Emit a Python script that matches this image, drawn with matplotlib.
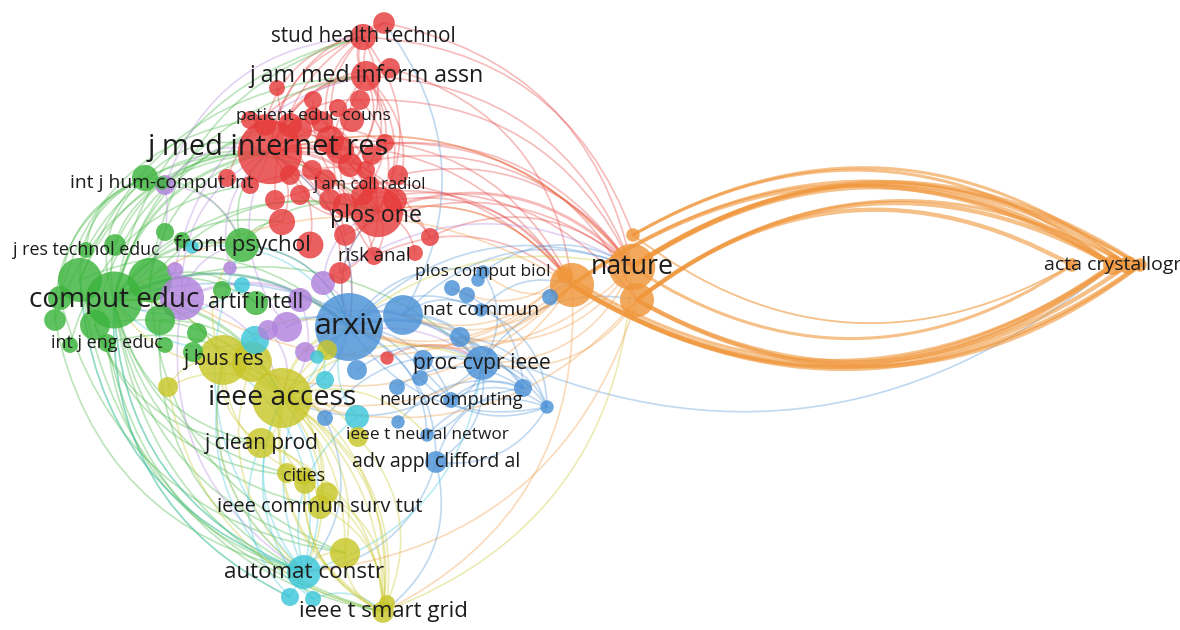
import matplotlib
matplotlib.use("Agg")
import matplotlib.pyplot as plt
from matplotlib.path import Path
from matplotlib.patches import PathPatch, Circle

# --- map data: node id, cluster, map x, map y, weight -----------------------
node_ids = [
    # red
    'stud', 'r01', 'jamia', 'r02', 'r03', 'r04', 'r05', 'pec', 'r06', 'r07', 'jmir',
    'r08', 'r09', 'r10', 'r11', 'jacr', 'r12', 'r13', 'r14', 'r15', 'plos', 'r16',
    'r17', 'r18', 'r19', 'r20', 'riskanal', 'r21', 'r22', 'r23',
    'r24', 'r25', 'r26', 'r27', 'r28', 'r29', 'r30', 'r31', 'r32', 'r33', 'r34',
    'r35', 'r36', 'r37',
    # green
    'g01', 'ijhci', 'g02', 'g03', 'jrte', 'g04', 'comput', 'g05', 'g06', 'g07', 'g08',
    'g09', 'g10', 'front', 'g11', 'artif', 'ijee', 'g12', 'g13', 'g14', 'g15',
    # purple
    'p01', 'p02', 'p03', 'p04', 'p05', 'p06', 'p07', 'p08', 'p09',
    # blue
    'arxiv', 'b01', 'natcom', 'pcb', 'cvpr', 'neuro', 'tnn', 'clifford', 'b02', 'b03',
    'b04', 'b05', 'b06', 'b07', 'b08', 'b09', 'b10', 'b11', 'b12', 'b13', 'b14',
    # cyan
    'c01', 'c02', 'c03', 'c04', 'c05', 'automat', 'c06', 'c07', 'c08',
    # yellow
    'access', 'jbr', 'y01', 'jcp', 'cities', 'y02', 'y03', 'ieeecst', 'y04', 'y05',
    'smart', 'y06', 'y07', 'y08', 'y09',
    # orange
    'nature', 'o01', 'o02', 'o03', 'o04', 'acta', 'o05', 'o06', 'o07',
]

node_labels = {
    'stud': 'stud health technol', 'jamia': 'j am med inform assn',
    'pec': 'patient educ couns', 'jmir': 'j med internet res',
    'jacr': 'j am coll radiol', 'plos': 'plos one', 'riskanal': 'risk anal',
    'ijhci': 'int j hum-comput int', 'jrte': 'j res technol educ',
    'comput': 'comput educ', 'front': 'front psychol', 'artif': 'artif intell',
    'ijee': 'int j eng educ', 'arxiv': 'arxiv', 'natcom': 'nat commun',
    'pcb': 'plos comput biol', 'cvpr': 'proc cvpr ieee', 'neuro': 'neurocomputing',
    'tnn': 'ieee t neural networ', 'clifford': 'adv appl clifford al',
    'access': 'ieee access', 'jbr': 'j bus res', 'jcp': 'j clean prod',
    'cities': 'cities', 'ieeecst': 'ieee commun surv tut', 'automat': 'automat constr',
    'smart': 'ieee t smart grid', 'nature': 'nature', 'acta': 'acta crystallogr',
}

node_cluster = (['red'] * 44 + ['green'] * 21 + ['purple'] * 9 + ['blue'] * 21
                + ['cyan'] * 9 + ['yellow'] * 15 + ['orange'] * 9)

node_x = [
    363, 384, 366, 390, 360, 313, 277, 313, 250, 290, 270,
    330, 385, 350, 312, 370, 300, 250, 227, 330, 378, 282,
    310, 345, 430, 415, 374, 340, 387, 395,
    265, 300, 322, 338, 352, 340, 372, 366, 325, 290, 275,
    345, 362, 398,
    145, 162, 165, 182, 86, 115, 114, 80, 150, 55, 60,
    160, 95, 242, 222, 256, 107, 197, 193, 165, 70,
    182, 287, 323, 230, 165, 300, 268, 305, 175,
    349, 403, 481, 483, 482, 451, 427, 436, 452, 467,
    478, 460, 423, 397, 420, 523, 547, 398, 325, 357, 550,
    357, 325, 317, 242, 192, 304, 290, 313, 255,
    282, 223, 252, 261, 304, 287, 305, 320, 327, 345,
    383, 387, 168, 358, 327,
    632, 572, 637, 633, 565, 1113, 1072, 1128, 1140,
]
node_y = [
    37, 23, 76, 68, 100, 100, 88, 116, 120, 125, 152,
    140, 143, 165, 170, 185, 195, 185, 178, 200, 212, 222,
    245, 235, 237, 253, 256, 273, 358, 200,
    125, 130, 122, 108, 120, 150, 155, 170, 180, 175, 200,
    205, 195, 175,
    178, 183, 232, 240, 250, 245, 300, 280, 280, 320, 298,
    320, 325, 245, 290, 303, 343, 333, 352, 345, 345,
    298, 327, 283, 268, 185, 300, 330, 352, 270,
    327, 315, 310, 272, 363, 400, 435, 462, 288, 295,
    280, 337, 360, 387, 378, 388, 407, 422, 418, 370, 297,
    417, 380, 357, 285, 247, 572, 597, 599, 340,
    398, 360, 362, 443, 476, 473, 483, 507, 493, 553,
    612, 603, 387, 437, 350,
    267, 285, 300, 235, 275, 265, 265, 265, 265,
]
node_weight = [
    19, 13, 25, 11, 11, 9, 7, 9, 9, 16, 115,
    22, 9, 16, 11, 9, 11, 9, 9, 13, 70, 19,
    20, 13, 9, 7, 9, 13, 5, 16,
    13, 16, 13, 9, 16, 22, 11, 9, 13, 11, 11,
    16, 13, 11,
    19, 5, 9, 7, 7, 13, 90, 54, 54, 13, 16,
    25, 25, 32, 9, 16, 9, 11, 11, 7, 7,
    54, 25, 16, 5, 11, 16, 11, 11, 7,
    128, 44, 5, 5, 32, 7, 5, 13, 7, 7,
    5, 11, 11, 7, 7, 9, 5, 5, 7, 11, 7,
    16, 9, 5, 7, 5, 32, 9, 7, 22,
    100, 69, 44, 25, 9, 11, 13, 16, 13, 25,
    13, 7, 11, 11, 11,
    60, 54, 32, 5, 7, 11, 5, 9, 5,
]

# links: (source, target, strength, bend side)
links = [
    # red
    ('jmir', 'stud', 1, 1), ('jmir', 'r01', 1, 1), ('jmir', 'jamia', 2, 1), ('jmir', 'r02', 1, 1),
    ('jmir', 'r03', 1, 1), ('jmir', 'pec', 1, 1), ('jmir', 'r08', 1, 1), ('jmir', 'r09', 1, 1),
    ('jmir', 'r10', 1, 1), ('jmir', 'jacr', 1, 1), ('jmir', 'plos', 2, 1), ('jmir', 'r16', 1, 1),
    ('jmir', 'r17', 1, 1), ('jmir', 'r18', 1, 1), ('jmir', 'riskanal', 1, 1), ('jmir', 'r19', 1, 1),
    ('jmir', 'r15', 1, 1), ('jmir', 'r23', 1, 1), ('jmir', 'r21', 1, 1),
    ('jamia', 'stud', 2, 1), ('jamia', 'r01', 1, 1), ('jamia', 'plos', 1, 1), ('jamia', 'jacr', 1, 1),
    ('jamia', 'r10', 1, 1), ('jamia', 'r23', 1, 1), ('jamia', 'riskanal', 1, -1),
    ('stud', 'plos', 1, 1), ('stud', 'r10', 1, 1), ('stud', 'r08', 1, -1),
    ('plos', 'r19', 1, 1), ('plos', 'r20', 1, 1), ('plos', 'riskanal', 1, 1), ('plos', 'r21', 1, 1),
    ('plos', 'r12', 1, 1), ('plos', 'r04', 1, 1), ('plos', 'r05', 1, 1),
    ('r08', 'plos', 1, 1), ('r07', 'plos', 1, 1), ('r06', 'plos', 1, 1), ('pec', 'plos', 1, 1),
    ('r03', 'plos', 1, 1), ('r11', 'r23', 1, 1), ('r13', 'plos', 1, 1), ('r14', 'jamia', 1, 1),
    ('r24', 'stud', 1, 1), ('r35', 'jamia', 1, 1), ('r26', 'r36', 1, 1), ('r33', 'plos', 1, -1),
    ('r29', 'stud', 1, 1), ('r34', 'r01', 1, 1), ('r31', 'jamia', 1, -1),
    ('jmir', 'nature', 1, 1), ('plos', 'nature', 2, 1), ('jamia', 'nature', 1, 1),
    ('r01', 'nature', 1, 1), ('r08', 'o01', 1, 1), ('r10', 'nature', 1, 1), ('r23', 'o01', 1, 1),
    ('r19', 'nature', 1, 1), ('plos', 'o01', 1, 1), ('r09', 'o02', 1, 1), ('riskanal', 'o01', 1, 1),
    ('stud', 'o03', 1, 1), ('r02', 'o01', 1, 1), ('r29', 'nature', 1, 1), ('r36', 'o01', 1, 1),
    ('r37', 'nature', 1, 1), ('r34', 'o04', 1, 1), ('r35', 'o02', 1, 1), ('r03', 'nature', 1, 1),
    ('jmir', 'o01', 1, 1), ('r18', 'nature', 1, 1),
    ('jmir', 'arxiv', 1, 1), ('plos', 'arxiv', 1, -1), ('r22', 'cvpr', 1, 1),
    # green
    ('comput', 'jmir', 2, 1), ('comput', 'jamia', 1, 1), ('comput', 'plos', 1, 1),
    ('comput', 'front', 2, 1), ('comput', 'pec', 1, 1), ('comput', 'r16', 1, 1),
    ('g05', 'jmir', 1, 1), ('g06', 'jmir', 1, 1), ('g06', 'plos', 1, 1), ('g01', 'jmir', 1, 1),
    ('g01', 'plos', 1, 1), ('g01', 'front', 1, 1), ('comput', 'g01', 1, 1), ('comput', 'ijhci', 1, 1),
    ('g05', 'g01', 1, 1), ('jrte', 'g01', 1, 1), ('g08', 'g01', 1, 1), ('front', 'jmir', 1, 1),
    ('front', 'plos', 1, 1), ('front', 'r16', 1, 1), ('g04', 'jmir', 1, 1), ('jrte', 'jmir', 1, 1),
    ('comput', 'stud', 1, 1), ('g05', 'jamia', 1, 1), ('g06', 'stud', 1, 1), ('g07', 'jmir', 1, 1),
    ('g08', 'r06', 1, 1), ('g10', 'r07', 1, 1), ('g07', 'g01', 1, 1), ('g15', 'r13', 1, 1),
    ('comput', 'arxiv', 2, 1), ('comput', 'access', 2, 1), ('comput', 'jbr', 1, 1),
    ('front', 'arxiv', 1, 1), ('artif', 'arxiv', 1, 1), ('comput', 'artif', 1, 1),
    ('g06', 'artif', 1, 1), ('g09', 'access', 1, 1), ('g10', 'access', 1, 1), ('ijee', 'access', 1, 1),
    ('comput', 'p01', 1, 1), ('g05', 'arxiv', 1, 1), ('comput', 'cvpr', 1, 1),
    ('comput', 'automat', 1, -1), ('comput', 'smart', 1, -1), ('comput', 'ieeecst', 1, -1),
    ('comput', 'jcp', 1, -1), ('comput', 'y05', 1, -1), ('g05', 'automat', 1, -1),
    ('g05', 'smart', 1, -1), ('g10', 'cities', 1, -1), ('ijee', 'automat', 1, -1),
    ('ijee', 'smart', 1, -1), ('g07', 'automat', 1, -1), ('comput', 'c06', 1, -1),
    ('g08', 'y05', 1, -1), ('comput', 'cities', 1, -1), ('g09', 'automat', 1, -1),
    ('g06', 'y05', 1, -1), ('g10', 'jcp', 1, -1),
    # purple
    ('p01', 'comput', 1, 1), ('p01', 'arxiv', 2, 1), ('p01', 'jmir', 1, 1), ('p01', 'front', 1, 1),
    ('p02', 'arxiv', 1, 1), ('p02', 'jmir', 1, 1), ('p03', 'arxiv', 1, 1), ('p03', 'plos', 1, 1),
    ('p05', 'comput', 1, 1), ('p05', 'jmir', 1, 1), ('p06', 'access', 1, 1), ('p07', 'access', 1, 1),
    ('p09', 'comput', 1, 1), ('p01', 'access', 1, 1), ('p02', 'cvpr', 1, 1), ('p05', 'front', 1, 1),
    ('p03', 'nature', 1, 1), ('p04', 'jmir', 1, 1), ('p08', 'cvpr', 1, 1), ('p01', 'automat', 1, -1),
    ('p05', 'stud', 1, 1), ('p09', 'jamia', 1, 1),
    # blue
    ('arxiv', 'cvpr', 2, 1), ('arxiv', 'natcom', 1, 1), ('arxiv', 'neuro', 1, 1), ('arxiv', 'tnn', 1, 1),
    ('arxiv', 'clifford', 1, 1), ('arxiv', 'b01', 2, 1), ('arxiv', 'pcb', 1, 1), ('b01', 'cvpr', 2, 1),
    ('b01', 'natcom', 1, 1), ('cvpr', 'neuro', 1, 1), ('cvpr', 'b09', 1, 1), ('cvpr', 'b10', 1, 1),
    ('cvpr', 'tnn', 1, 1), ('cvpr', 'clifford', 1, 1), ('neuro', 'b09', 1, 1), ('neuro', 'b10', 1, 1),
    ('clifford', 'b09', 1, 1), ('clifford', 'b10', 1, -1), ('tnn', 'b10', 1, 1), ('b06', 'b10', 1, 1),
    ('b05', 'b10', 1, 1), ('b05', 'cvpr', 1, 1), ('b07', 'b09', 1, 1), ('b08', 'b10', 1, -1),
    ('b13', 'cvpr', 1, 1), ('arxiv', 'b09', 1, 1), ('arxiv', 'b10', 1, -1), ('natcom', 'b10', 1, 1),
    ('pcb', 'cvpr', 1, 1), ('b02', 'b09', 1, 1), ('b11', 'b09', 1, 1), ('b12', 'cvpr', 1, 1),
    ('arxiv', 'nature', 1, 1), ('b01', 'nature', 1, 1), ('natcom', 'o01', 1, 1),
    ('pcb', 'nature', 1, 1), ('b14', 'o01', 1, 1), ('b05', 'acta', 1, -1), ('cvpr', 'o02', 1, 1),
    ('arxiv', 'jmir', 1, -1), ('arxiv', 'plos', 1, 1), ('arxiv', 'front', 1, -1),
    ('arxiv', 'comput', 1, -1), ('arxiv', 'access', 1, 1), ('clifford', 'smart', 1, 1),
    ('clifford', 'automat', 1, 1), ('b12', 'automat', 1, 1), ('b01', 'r01', 1, -1),
    ('neuro', 'comput', 1, -1), ('cvpr', 'access', 1, 1),
    # cyan
    ('automat', 'access', 1, 1), ('automat', 'arxiv', 1, 1), ('automat', 'jbr', 1, 1),
    ('automat', 'jbr', 1, -1), ('automat', 'c01', 1, 1), ('automat', 'comput', 1, 1),
    ('c06', 'comput', 1, 1), ('c07', 'jbr', 1, 1), ('automat', 'g05', 1, 1), ('automat', 'front', 1, 1),
    ('c01', 'arxiv', 1, 1), ('c02', 'arxiv', 1, 1), ('c08', 'comput', 1, 1), ('c08', 'arxiv', 1, 1),
    ('automat', 'cvpr', 1, -1), ('c06', 'access', 1, -1), ('c07', 'smart', 1, 1),
    ('c06', 'jcp', 1, 1), ('c07', 'access', 1, 1), ('c04', 'comput', 1, 1), ('c05', 'arxiv', 1, 1),
    # yellow
    ('access', 'automat', 1, 1), ('access', 'smart', 1, 1), ('access', 'smart', 2, -1),
    ('jbr', 'smart', 1, 1), ('jbr', 'automat', 1, -1), ('access', 'ieeecst', 1, 1),
    ('access', 'cities', 1, -1), ('access', 'y05', 1, 1), ('jcp', 'smart', 1, 1),
    ('cities', 'smart', 1, -1), ('ieeecst', 'smart', 1, 1), ('y05', 'smart', 1, -1),
    ('jbr', 'y05', 1, 1), ('y01', 'smart', 1, 1), ('y01', 'automat', 1, -1), ('jbr', 'jcp', 1, -1),
    ('access', 'jcp', 1, 1), ('y07', 'access', 1, 1), ('y07', 'jbr', 1, 1), ('jbr', 'comput', 1, -1),
    ('access', 'arxiv', 2, 1), ('access', 'cvpr', 1, 1), ('access', 'tnn', 1, 1),
    ('access', 'b12', 1, 1), ('jbr', 'arxiv', 1, 1), ('access', 'nature', 1, 1), ('jbr', 'front', 1, 1),
    ('y01', 'comput', 1, 1), ('y05', 'automat', 1, -1), ('access', 'y08', 1, 1),
    ('smart', 'nature', 1, -1), ('y04', 'smart', 1, 1), ('y03', 'smart', 1, -1), ('y02', 'smart', 1, 1),
    ('y06', 'access', 1, -1), ('y07', 'smart', 1, -1), ('y08', 'smart', 1, 1), ('y09', 'access', 1, 1),
    ('jcp', 'ieeecst', 1, 1), ('jbr', 'cities', 1, -1), ('y01', 'ieeecst', 1, 1),
    # orange
    ('nature', 'acta', 4, 1), ('nature', 'o06', 3, 1), ('nature', 'o07', 3, 1), ('o03', 'acta', 2, 1),
    ('o01', 'acta', 3, 1), ('o01', 'o07', 2, 1), ('o02', 'o05', 3, 1), ('o02', 'acta', 3, 1),
    ('o03', 'o06', 2, 1), ('o02', 'o06', 2, 1),
    ('o01', 'acta', 4, -1), ('o01', 'o06', 3, -1), ('o01', 'o07', 3, -1), ('o02', 'acta', 3, -1),
    ('o02', 'o07', 3, -1), ('nature', 'o05', 2, -1), ('o03', 'o05', 1, -1), ('o04', 'acta', 2, -1),
    ('nature', 'arxiv', 1, 1), ('o01', 'arxiv', 2, 1), ('o01', 'access', 1, 1), ('o01', 'b01', 1, 1),
    ('nature', 'cvpr', 1, 1), ('o01', 'jbr', 1, 1), ('nature', 'jmir', 1, -1), ('o01', 'smart', 1, 1),
    ('o02', 'access', 1, 1), ('o01', 'comput', 1, -1), ('o02', 'cvpr', 1, 1), ('o01', 'natcom', 1, 1),
    ('o04', 'arxiv', 1, 1), ('o01', 'plos', 1, -1), ('o01', 'p01', 1, 1), ('o02', 'automat', 1, 1),
    ('o04', 'b02', 1, 1), ('o01', 'pcb', 1, 1), ('nature', 'b05', 1, 1), ('o04', 'b01', 1, 1),
]

# --- styles ----------------------------------------------------------------
cluster_color = {
    'red': '#e63c3c', 'green': '#3cb43c', 'blue': '#4b91d6', 'yellow': '#c8c628',
    'purple': '#b082dc', 'cyan': '#3cc6d8', 'orange': '#f0963a',
}
label_pt = {
    'stud': 14.8, 'jamia': 16.7, 'pec': 12.5, 'jmir': 20.9, 'jacr': 12.0, 'plos': 16.7,
    'riskanal': 13.3, 'ijhci': 13.9, 'jrte': 12.9, 'comput': 20.1, 'front': 16.1,
    'artif': 15.3, 'ijee': 13.0, 'arxiv': 21.9, 'natcom': 14.0, 'pcb': 12.5,
    'cvpr': 15.2, 'neuro': 13.2, 'tnn': 12.4, 'clifford': 14.1, 'access': 20.4,
    'jbr': 14.8, 'jcp': 15.0, 'cities': 12.8, 'ieeecst': 14.5, 'automat': 16.1,
    'smart': 15.9, 'nature': 19.3, 'acta': 14.0,
}
label_pos = {'jmir': (268, 148), 'plos': (376, 216)}
CURVE = 0.33
FONT = ['Open Sans', 'DejaVu Sans']

pos = {n: (x, y) for n, x, y in zip(node_ids, node_x, node_y)}
cluster_of = dict(zip(node_ids, node_cluster))

fig = plt.figure(figsize=(11.8, 6.3), dpi=100)
ax = fig.add_axes([0, 0, 1, 1])
ax.set_xlim(0, 1180)
ax.set_ylim(630, 0)
ax.axis('off')

# curved links (quadratic bezier, bent to one side)
for src, dst, w, side in links:
    x0, y0 = pos[src]
    x1, y1 = pos[dst]
    dx, dy = x1 - x0, y1 - y0
    cx = (x0 + x1) / 2 + side * CURVE * dy
    cy = (y0 + y1) / 2 - side * CURVE * dx
    path = Path([(x0, y0), (cx, cy), (x1, y1)],
                [Path.MOVETO, Path.CURVE3, Path.CURVE3])
    lens = cluster_of[src] == 'orange' and cluster_of[dst] == 'orange'
    ax.add_patch(PathPatch(path, fill=False, edgecolor=cluster_color[cluster_of[src]],
                           lw=(0.9 * w + 0.4) if lens else (0.3 + 0.9 * w),
                           alpha=0.6 if lens else 0.35, capstyle='round', zorder=1))

# nodes, big ones first
order = sorted(range(len(node_ids)), key=lambda i: -node_weight[i])
for i in order:
    r = 3.0 * node_weight[i] ** 0.5
    ax.add_patch(Circle((node_x[i], node_y[i]), r,
                        facecolor=cluster_color[node_cluster[i]],
                        edgecolor='none', alpha=0.82, zorder=2))

for n, text in node_labels.items():
    x, y = label_pos.get(n, pos[n])
    ax.text(x, y, text, ha='center', va='center', fontsize=label_pt[n],
            color='#1c1c1c', family=FONT, zorder=3)

fig.savefig('out.png', dpi=100, facecolor='white')
